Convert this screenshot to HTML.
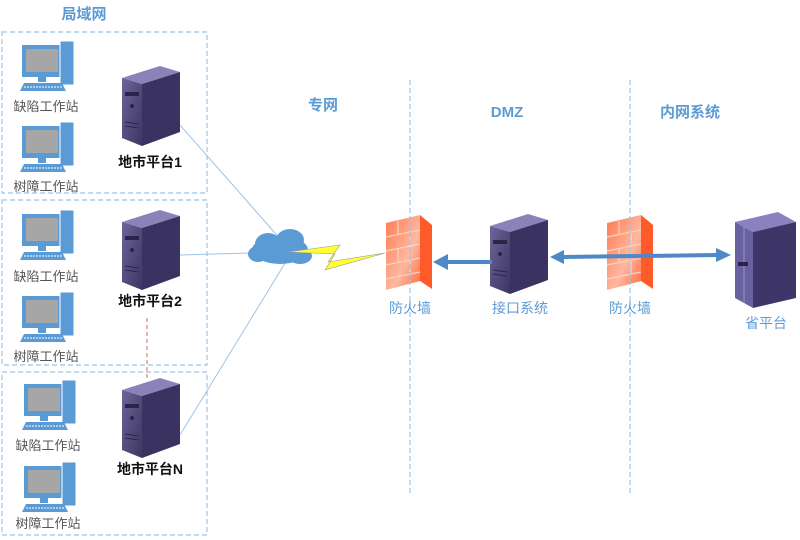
<!DOCTYPE html>
<html><head><meta charset="utf-8"><style>
html,body{margin:0;padding:0;background:#fff;}
svg{display:block;font-family:"Liberation Sans","Noto Sans CJK SC",sans-serif;}
</style></head><body>
<svg width="800" height="540" viewBox="0 0 800 540" xmlns="http://www.w3.org/2000/svg">
<defs>
<linearGradient id="sv" x1="0" y1="0" x2="1" y2="1"><stop offset="0" stop-color="#6e6498"/><stop offset="1" stop-color="#3c3462"/></linearGradient>
<linearGradient id="fw" x1="0" y1="0" x2="1" y2="1"><stop offset="0" stop-color="#ff7a50"/><stop offset="0.6" stop-color="#ffb8a0"/><stop offset="1" stop-color="#ff6a3a"/></linearGradient>
<g id="pc">
<rect x="0" y="0" width="40" height="32" fill="#5b9bd5"/>
<rect x="4" y="4" width="32" height="23" fill="#a6a6a6"/>
<rect x="38" y="-4" width="14" height="44" fill="#5b9bd5" stroke="#fff" stroke-width="1"/>
<rect x="16" y="32" width="8" height="5" fill="#5b9bd5"/>
<polygon points="2,38 40,38 44,46 -2,46" fill="#5b9bd5"/>
<line x1="2" y1="42" x2="40" y2="42" stroke="#fff" stroke-width="1" stroke-dasharray="2,1"/>
</g>
<g id="srv">
<polygon points="0,12 38,0 58,6 20,18" fill="#8a82b8"/>
<polygon points="20,18 58,6 58,66 20,80" fill="#3a3260"/>
<polygon points="0,12 20,18 20,80 0,72" fill="url(#sv)"/>
<rect x="3" y="26" width="14" height="4" fill="#2a2448"/>
<circle cx="10" cy="40" r="2" fill="#2a2448"/>
<line x1="3" y1="56" x2="17" y2="58" stroke="#2a2448"/>
<line x1="3" y1="60" x2="17" y2="62" stroke="#2a2448"/>
</g>
<g id="fwall">
<polygon points="0,8 34,0 34,66 0,75" fill="url(#fw)"/>
<polygon points="34,0 46,10 46,74 34,66" fill="#ff5a2a"/>
<g stroke="#ffd0c0" stroke-width="1.2" fill="none">
<line x1="0" y1="22" x2="34" y2="15"/><line x1="0" y1="36" x2="34" y2="29"/><line x1="0" y1="50" x2="34" y2="43"/><line x1="0" y1="64" x2="34" y2="57"/>
<line x1="12" y1="6" x2="12" y2="19"/><line x1="24" y1="18" x2="24" y2="32"/><line x1="12" y1="33" x2="12" y2="47"/><line x1="24" y1="45" x2="24" y2="59"/>
</g>
</g>
</defs>

<g fill="none" stroke="#9dc3e6" stroke-width="1.2" stroke-dasharray="5,3">
<rect x="2" y="32" width="205" height="161"/>
<rect x="2" y="200" width="205" height="165"/>
<rect x="2" y="372" width="205" height="163"/>
</g>
<line x1="147" y1="318" x2="147" y2="378" stroke="#e06060" stroke-dasharray="4,3"/>

<g font-size="13" fill="#555" text-anchor="middle">
<use href="#pc" x="22" y="45"/><text x="46" y="111">缺陷工作站</text>
<use href="#pc" x="22" y="126"/><text x="46" y="191">树障工作站</text>
<use href="#pc" x="22" y="214"/><text x="46" y="281">缺陷工作站</text>
<use href="#pc" x="22" y="296"/><text x="46" y="361">树障工作站</text>
<use href="#pc" x="24" y="384"/><text x="48" y="450">缺陷工作站</text>
<use href="#pc" x="24" y="466"/><text x="48" y="528">树障工作站</text>
</g>

<use href="#srv" x="122" y="66"/>
<use href="#srv" x="122" y="210"/>
<use href="#srv" x="122" y="378"/>
<g font-size="14" font-weight="bold" fill="#111" text-anchor="middle">
<text x="150" y="167">地市平台1</text>
<text x="150" y="306">地市平台2</text>
<text x="150" y="474">地市平台N</text>
</g>

<g stroke="#9dc3e6" stroke-width="1" fill="none">
<line x1="290" y1="250" x2="180" y2="125"/>
<line x1="285" y1="252" x2="180" y2="255"/>
<line x1="290" y1="255" x2="180" y2="435"/>
</g>
<g fill="#5b9bd5">
<ellipse cx="280" cy="250" rx="28" ry="14"/>
<ellipse cx="268" cy="244" rx="13" ry="11"/>
<ellipse cx="290" cy="240" rx="14" ry="11"/>
<ellipse cx="258" cy="254" rx="10" ry="8"/>
<ellipse cx="300" cy="256" rx="12" ry="8"/>
</g>
<polygon points="288,252 340,245 328,262 385,253 325,270 335,254" fill="#ffff33" stroke="#999" stroke-width="0.6"/>

<use href="#fwall" x="386" y="215"/>
<use href="#fwall" x="607" y="215"/>
<use href="#srv" x="490" y="214"/>

<g fill="none" stroke="#9dc3e6" stroke-width="1.2" stroke-dasharray="5,3">
<line x1="410" y1="80" x2="410" y2="495"/>
<line x1="630" y1="80" x2="630" y2="495"/>
</g>

<line x1="492" y1="262" x2="446" y2="262" stroke="#4e88c7" stroke-width="4"/>
<polygon points="433,262 448,254 448,270" fill="#4e88c7"/>
<line x1="562" y1="257" x2="718" y2="255" stroke="#4e88c7" stroke-width="4"/>
<polygon points="550,257 564,250 564,264" fill="#4e88c7"/>
<polygon points="731,255 716,248 716,262" fill="#4e88c7"/>

<g>
<polygon points="735,222 778,212 796,222 753,232" fill="#8a82c0"/>
<polygon points="735,222 753,232 753,308 735,298" fill="#6a62a0"/>
<polygon points="753,232 796,222 796,298 753,308" fill="#3e3668"/>
<line x1="744" y1="227" x2="744" y2="303" stroke="#9a92c8"/>
<rect x="738" y="262" width="10" height="4" fill="#2a2448"/>
</g>

<g font-size="14" fill="#5b9bd5" text-anchor="middle">
<text x="410" y="313">防火墙</text>
<text x="520" y="313">接口系统</text>
<text x="630" y="313">防火墙</text>
<text x="766" y="328">省平台</text>
</g>
<g font-size="15" font-weight="bold" fill="#5b9bd5" text-anchor="middle">
<text x="84" y="19">局域网</text>
<text x="323" y="110">专网</text>
<text x="507" y="117">DMZ</text>
<text x="690" y="117">内网系统</text>
</g>
</svg>
</body></html>
